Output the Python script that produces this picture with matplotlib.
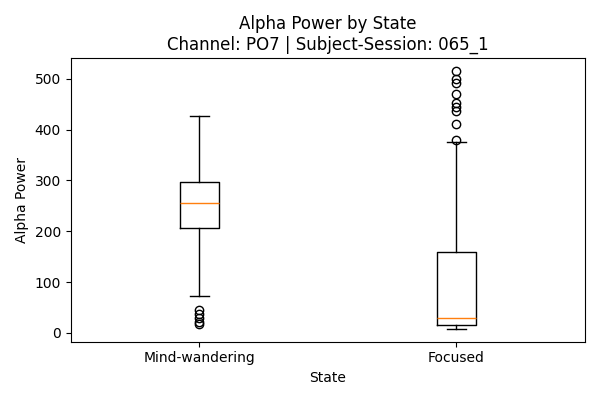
import matplotlib
matplotlib.use("Agg")
import matplotlib.pyplot as plt

states = ["Mind-wandering", "Focused"]
medians = [255, 29]
q1s = [207, 15]
q3s = [296, 159]
whis_lo = [73, 8]
whis_hi = [426, 375]
fliers = [
    [46, 38, 30, 22, 18],
    [515, 500, 492, 469, 452, 444, 437, 411, 379],
]

stats = []
for i, name in enumerate(states):
    stats.append({
        "label": name,
        "med": medians[i],
        "q1": q1s[i],
        "q3": q3s[i],
        "whislo": whis_lo[i],
        "whishi": whis_hi[i],
        "fliers": fliers[i],
    })

fig, ax = plt.subplots(figsize=(6, 4), dpi=100)
ax.bxp(stats)
ax.set_title("Alpha Power by State\nChannel: PO7 | Subject-Session: 065_1")
ax.set_xlabel("State")
ax.set_ylabel("Alpha Power")
fig.tight_layout()
fig.savefig("out.png", dpi=100)
plt.close(fig)
